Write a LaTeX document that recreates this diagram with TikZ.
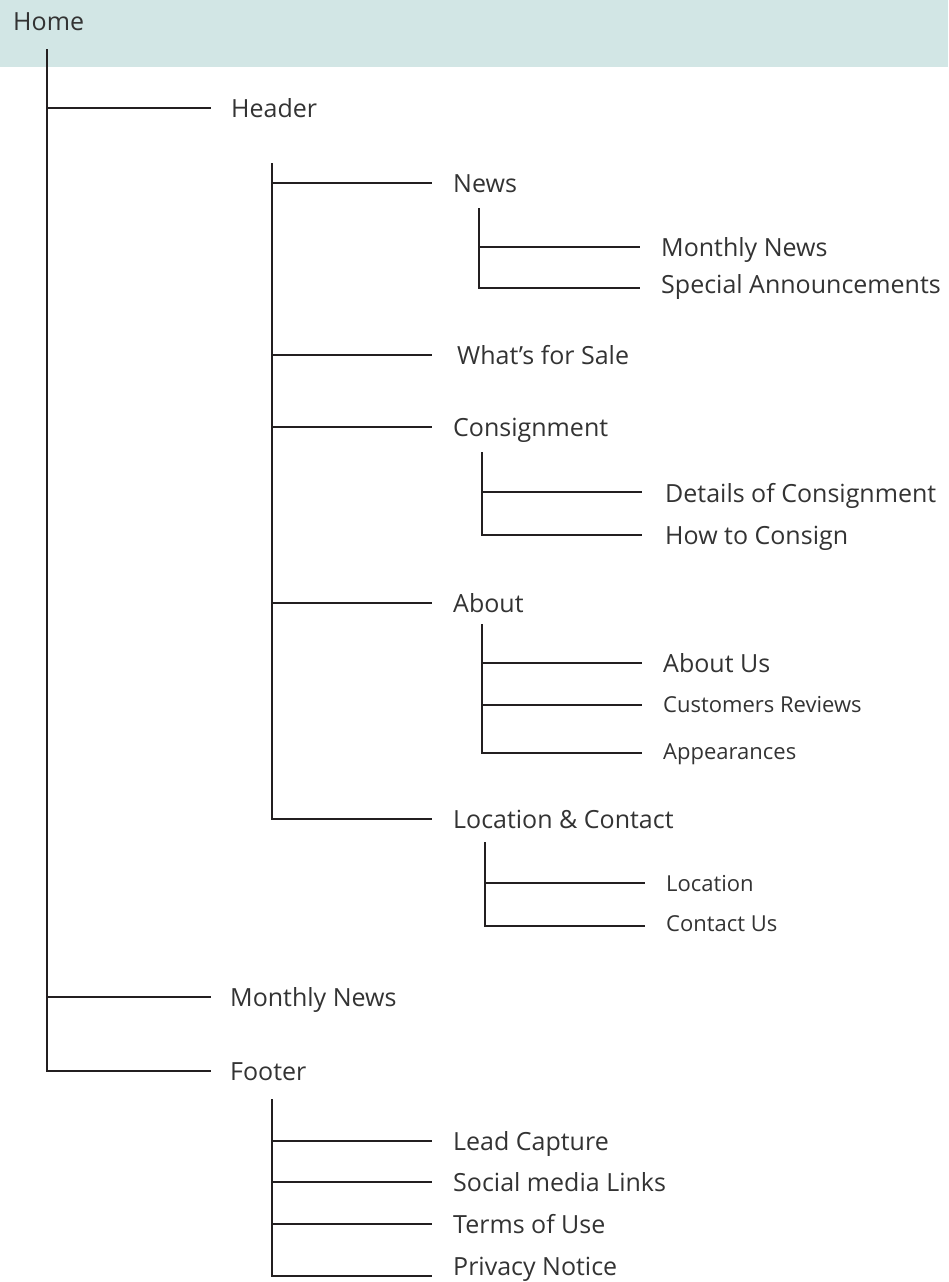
\documentclass[tikz,border=0pt]{standalone}
\usepackage{fontspec}
\setmainfont{Open Sans}
\definecolor{barcol}{HTML}{D2E6E5}
\definecolor{linecol}{HTML}{231F20}
\definecolor{txtcol}{HTML}{333333}
\begin{document}
\begin{tikzpicture}[x=1pt,y=-1pt,
  link/.style={line width=2.9pt, draw=linecol},
  big/.style={anchor=west, inner sep=0pt, text height=18pt, text depth=0pt,
              font=\fontsize{25}{30}\selectfont, text=txtcol},
  small/.style={big, text height=15.8pt, font=\fontsize{22}{26}\selectfont}]
\useasboundingbox (0,0) rectangle (948,1282);
% title bar
\fill[barcol] (0,0) rectangle (948,67);
\node[big] (home) at (13,21) {Home};

% level 1: page sections
\node[big] (header) at (231,108) {Header};
\node[big] (mnews) at (230,997) {Monthly News};
\node[big] (footer) at (230,1071) {Footer};

% level 2: header menu
\node[big] (news) at (453,183) {News};
\node[big] (sale) at (457,355) {What’s for Sale};
\node[big] (consign) at (453,427) {Consignment};
\node[big] (about) at (453,603) {About};
\node[big] (loc) at (453,819) {Location \& Contact};

% level 3 items
\node[big] (monthly) at (661,247) {Monthly News};
\node[big] (special) at (661,284) {Special Announcements};
\node[big] (details) at (665,493) {Details of Consignment};
\node[big] (how) at (665,535) {How to Consign};
\node[big] (aboutus) at (663,663) {About Us};
\node[small] (reviews) at (663,705) {Customers Reviews};
\node[small] (appear) at (663,752) {Appearances};
\node[small] (location) at (666,884) {Location};
\node[small] (contact) at (666,924) {Contact Us};

% footer items
\node[big] (lead) at (453,1141) {Lead Capture};
\node[big] (social) at (453,1182) {Social media Links};
\node[big] (terms) at (453,1224) {Terms of Use};
\node[big] (privacy) at (453,1266) {Privacy Notice};

% spine tops and connector ends
\coordinate (s0) at (47,49);
\coordinate (s1) at (272,163);
\coordinate (s2) at (479,208);
\coordinate (s3) at (482,452);
\coordinate (s4) at (482,624);
\coordinate (s5) at (485,842);
\coordinate (s6) at (272,1099);

\coordinate (e-header) at (211,108);
\coordinate (e-mnews) at (211,997);
\coordinate (e-footer) at (211,1071);
\coordinate (e-news) at (432,183);
\coordinate (e-sale) at (432,355);
\coordinate (e-consign) at (432,427);
\coordinate (e-about) at (432,603);
\coordinate (e-loc) at (432,819);
\coordinate (e-monthly) at (640,247);
\coordinate (e-special) at (640,288);
\coordinate (e-details) at (642,492);
\coordinate (e-how) at (642,535);
\coordinate (e-aboutus) at (642,663);
\coordinate (e-reviews) at (642,705);
\coordinate (e-appear) at (642,753);
\coordinate (e-location) at (645,883);
\coordinate (e-contact) at (645,926);
\coordinate (e-lead) at (432,1141);
\coordinate (e-social) at (432,1182);
\coordinate (e-terms) at (432,1224);
\coordinate (e-privacy) at (432,1276);

% home tree
\draw[link] (s0) |- (e-footer);
\draw[link] (s0 |- e-header) -- (e-header);
\draw[link] (s0 |- e-mnews) -- (e-mnews);

% header tree
\draw[link] (s1) |- (e-loc);
\foreach \n in {news,sale,consign,about}
  \draw[link] (s1 |- e-\n) -- (e-\n);

% news
\draw[link] (s2) |- (e-special);
\draw[link] (s2 |- e-monthly) -- (e-monthly);

% consignment
\draw[link] (s3) |- (e-how);
\draw[link] (s3 |- e-details) -- (e-details);

% about
\draw[link] (s4) |- (e-appear);
\foreach \n in {aboutus,reviews}
  \draw[link] (s4 |- e-\n) -- (e-\n);

% location & contact
\draw[link] (s5) |- (e-contact);
\draw[link] (s5 |- e-location) -- (e-location);

% footer tree
\draw[link] (s6) |- (e-privacy);
\foreach \n in {lead,social,terms}
  \draw[link] (s6 |- e-\n) -- (e-\n);
\end{tikzpicture}
\end{document}
